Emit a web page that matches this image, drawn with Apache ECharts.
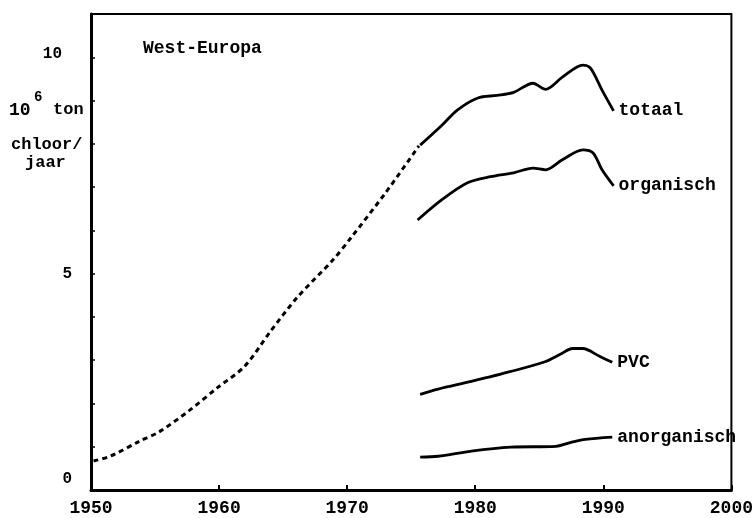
<!DOCTYPE html>
<html>
<head>
<meta charset="utf-8">
<title>West-Europa chloor</title>
<script src="https://cdn.jsdelivr.net/npm/echarts@6/dist/echarts.min.js"></script>
<style>
  html, body { margin: 0; padding: 0; background: #fff; }
  #chart { width: 756px; height: 518px; }
</style>
</head>
<body>
<div id="chart"></div>
<script>
// dotted trend 1950 - 1976
const dashYears = [1950.2, 1951.5, 1953.8, 1955.3, 1957.6, 1959.9, 1962.0, 1964.0, 1966.1, 1968.9, 1970.3, 1973.0, 1975.6];
const dashValues = [0.67, 0.78, 1.13, 1.34, 1.82, 2.37, 2.86, 3.66, 4.45, 5.32, 5.83, 6.87, 7.95];

const totaalYears = [1975.7, 1977.4, 1978.6, 1980.2, 1981.7, 1983.0, 1984.5, 1985.5, 1986.8, 1988.4, 1989.0, 1989.9, 1990.8];
const totaalValues = [7.97, 8.43, 8.78, 9.06, 9.12, 9.19, 9.40, 9.26, 9.54, 9.82, 9.75, 9.24, 8.76];

const organischYears = [1975.5, 1977.4, 1979.4, 1981.2, 1983.0, 1984.5, 1985.5, 1986.8, 1988.4, 1989.2, 1989.9, 1990.8];
const organischValues = [6.24, 6.71, 7.10, 7.24, 7.33, 7.44, 7.40, 7.63, 7.86, 7.79, 7.40, 7.03];

const pvcYears = [1975.7, 1977.1, 1979.7, 1982.8, 1985.5, 1986.6, 1987.6, 1988.4, 1989.7, 1990.7];
const pvcValues = [2.21, 2.33, 2.51, 2.74, 2.97, 3.13, 3.27, 3.27, 3.09, 2.95];

const anorgYears = [1975.7, 1977.1, 1979.7, 1982.8, 1986.3, 1987.6, 1988.6, 1990.7];
const anorgValues = [0.76, 0.78, 0.90, 0.99, 1.01, 1.11, 1.17, 1.22];

const yLabels = [0, 5, 10];

const FONT = '"Liberation Mono", "DejaVu Sans Mono", monospace';

const pairs = (xs, ys) => xs.map((x, i) => [x, ys[i]]);

const lineSeries = (name, xs, ys, dashed) => ({
  name: name,
  type: "line",
  smooth: 0.3,
  symbol: "none",
  data: pairs(xs, ys),
  lineStyle: {
    color: "#000",
    width: dashed ? 3 : 2.8,
    type: dashed ? [5, 4] : "solid",
  },
  endLabel: dashed
    ? { show: false }
    : {
        show: true,
        formatter: name,
        distance: 5,
        color: "#000",
        fontFamily: FONT,
        fontWeight: "bold",
        fontSize: 18,
      },
});

const myChart = echarts.init(document.getElementById("chart"));

const option = {
  animation: false,
  backgroundColor: "#fff",
  grid: {
    left: 91,
    right: 15,
    top: 14,
    bottom: 28,
    show: true,
    borderColor: "#000",
    borderWidth: 2,
  },
  xAxis: {
    type: "value",
    min: 1950,
    max: 2000,
    interval: 10,
    axisLine: { lineStyle: { color: "#000", width: 3 } },
    axisTick: { inside: true, length: 5, lineStyle: { color: "#000", width: 2 } },
    splitLine: { show: false },
    axisLabel: {
      color: "#000",
      fontFamily: FONT,
      fontWeight: "bold",
      fontSize: 18,
      margin: 9,
      formatter: (v) => String(v),
    },
  },
  yAxis: {
    type: "value",
    min: 0,
    max: 11,
    interval: 1,
    axisLine: { show: true, lineStyle: { color: "#000", width: 3 } },
    axisTick: { show: true, inside: true, length: 4, lineStyle: { color: "#000", width: 1.5 } },
    splitLine: { show: false },
    axisLabel: {
      color: "#000",
      fontFamily: FONT,
      fontWeight: "bold",
      fontSize: 16,
      margin: 19,
      formatter: (v) => {
        if (!yLabels.includes(v)) return "";
        if (v === 0) return "{z|0}";
        if (v === 10) return "{t|10}";
        return String(v);
      },
      rich: {
        z: { fontFamily: FONT, fontWeight: "bold", fontSize: 16, color: "#000", padding: [0, 0, 22, 0] },
        t: { fontFamily: FONT, fontWeight: "bold", fontSize: 16, color: "#000", padding: [0, 10, 6, 0] },
      },
    },
  },
  graphic: [
    { type: "text", left: 143, top: 39, style: { text: "West-Europa", font: "bold 18px " + FONT, fill: "#000" } },
    { type: "text", left: 9, top: 101, style: { text: "10", font: "bold 18px " + FONT, fill: "#000" } },
    { type: "text", left: 34, top: 90, style: { text: "6", font: "bold 14px " + FONT, fill: "#000" } },
    { type: "text", left: 53, top: 101, style: { text: "ton", font: "bold 17px " + FONT, fill: "#000" } },
    { type: "text", left: 11, top: 136, style: { text: "chloor/", font: "bold 17px " + FONT, fill: "#000" } },
    { type: "text", left: 25, top: 154, style: { text: "jaar", font: "bold 17px " + FONT, fill: "#000" } },
  ],
  series: [
    lineSeries("trend", dashYears, dashValues, true),
    lineSeries("totaal", totaalYears, totaalValues, false),
    lineSeries("organisch", organischYears, organischValues, false),
    lineSeries("PVC", pvcYears, pvcValues, false),
    lineSeries("anorganisch", anorgYears, anorgValues, false),
  ],
};

option && myChart.setOption(option);
</script>
</body>
</html>
